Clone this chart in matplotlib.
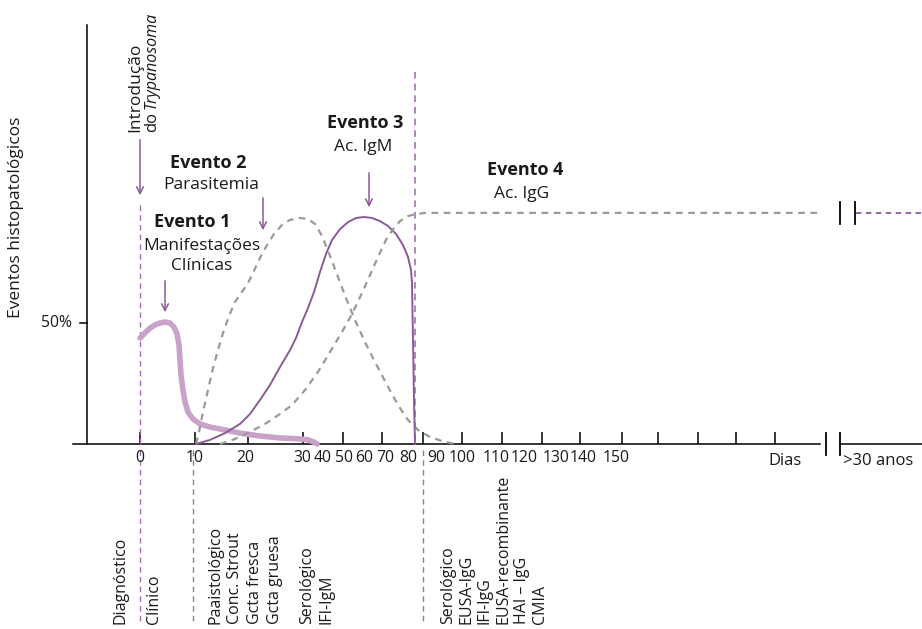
import matplotlib.pyplot as plt
import matplotlib.transforms as mtransforms

plt.rcParams['font.family'] = ['Open Sans', 'DejaVu Sans']

W, H = 922, 629
PX_PCT = 121 / 50  # pixels por ponto percentual na escala vertical

# --- dados (x = posicao horizontal do esquema, y = %) ---
ev1_x = [140, 145, 150, 155, 160, 165, 170, 174, 177, 179, 180, 181, 183, 185, 188, 193, 200, 210, 225,
         240, 260, 280, 300, 308, 314, 317]
ev1_y = [43.8, 45.9, 47.9, 49.2, 50.0, 50.4, 50.0, 48.3, 45.5, 40.9, 34.7, 28.5, 22.3, 17.4, 13.2, 10.3,
         8.3, 7.0, 5.8, 4.5, 3.3, 2.5, 2.1, 1.7, 0.8, 0]

ev2_x = [196, 199, 203, 208, 213, 218, 223, 229, 235, 241, 247, 253, 260, 267, 274, 282, 290, 300, 308,
         315, 322, 330, 338, 346, 355, 365, 375, 387, 398, 408, 418, 430, 442, 455]
ev2_y = [0, 5.0, 13.2, 22.3, 31.4, 38.8, 45.9, 52.9, 58.7, 62.4, 65.7, 70.7, 76.9, 82.2, 86.8, 90.5, 92.6,
         93.4, 93.0, 90.9, 86.0, 77.7, 69.0, 60.3, 51.2, 42.1, 33.9, 24.4, 16.1, 9.9, 5.8, 2.9, 1.2, 0]

ev3_x = [196, 210, 225, 240, 250, 260, 270, 280, 290, 296, 302, 308, 314, 320, 326, 332, 340, 348, 356,
         364, 372, 380, 388, 396, 403, 408, 411, 412, 413, 414, 415]
ev3_y = [0, 1.7, 4.5, 8.3, 12.4, 18.2, 24.4, 31.8, 38.8, 43.8, 50.4, 56.2, 62.8, 71.1, 78.5, 84.3, 88.8,
         91.7, 93.4, 93.8, 93.4, 92.1, 90.1, 86.8, 82.2, 77.3, 71.9, 66.5, 43.0, 18.2, 0]

ev4_x = [220, 235, 250, 265, 280, 292, 305, 318, 330, 342, 352, 362, 370, 378, 386, 393, 400, 408, 416,
         425, 818]
ev4_y = [0, 2.1, 5.0, 8.3, 12.4, 16.1, 22.3, 29.8, 38.0, 46.3, 53.7, 62.4, 69.8, 77.3, 84.3, 88.8, 92.1,
         94.2, 95.0, 95.5, 95.5]
ev4_late_x = [856, 922]
ev4_late_y = [95.5, 95.5]

tick_x = [140, 195, 248, 303, 343, 382, 423, 462, 502, 542, 580, 622, 658, 698, 736, 775]
tick_labels = ['0', '10', '20', '30', '40', '50', '60', '70', '80', '90', '100', '110', '120', '130', '140', '150']
label_x = [140, 195, 245, 302, 323, 344, 364, 385, 408, 436, 462, 496, 524, 556, 583, 616]

purple = '#8b5a98'
light_purple = '#c9a2c9'
gray = '#9a9a9a'
vline_col = '#a66fb3'
txt = '#1a1a1a'

fig = plt.figure(figsize=(W / 100, H / 100), dpi=100)
ax = fig.add_axes([0, 0, 1, 1])
ax.set_xlim(0, W)
ax.set_ylim(-(H - 444) / PX_PCT, 444 / PX_PCT)
ax.axis('off')

# transform em pixels a partir do canto superior esquerdo
pix = mtransforms.Affine2D().scale(1 / W, -1 / H).translate(0, 1) + fig.transFigure

# eixos
ax.plot([73, 820], [0, 0], color='black', lw=1.1)
ax.plot([840, 922], [0, 0], color='black', lw=1.1)
ax.plot([87, 87], [0, (444 - 25) / PX_PCT], color='black', lw=1.1)
ax.plot([80, 87], [50, 50], color='black', lw=1.1)
ax.vlines(tick_x, 0, 5, color='black', lw=1.1)
# quebras
for bx in [826, 840]:
    ax.plot([bx, bx], [-4.5, 4.5], color='black', lw=1.3)
for bx in [840, 855]:
    ax.plot([bx, bx], [95.5 - 4.5, 95.5 + 4.5], color='black', lw=1.3)

# linhas verticais tracejadas
dash = (0, (4, 3))
ax.plot([140, 140], [(444 - 205) / PX_PCT, 0], color=vline_col, lw=1, ls=dash)
ax.plot([415, 415], [(444 - 72) / PX_PCT, 0], color=vline_col, lw=1.2, ls=dash)
for vx in [140, 193, 423]:
    ax.plot([vx, vx], [-6 / PX_PCT, -(622 - 444) / PX_PCT], color=vline_col, lw=1, ls=dash)

# curvas
ax.plot(ev1_x, ev1_y, color=light_purple, lw=4, solid_capstyle='round', solid_joinstyle='round')
ax.plot(ev2_x, ev2_y, color=gray, lw=1.6, ls=(0, (3, 2.5)))
ax.plot(ev3_x, ev3_y, color=purple, lw=1.4)
ax.plot(ev4_x, ev4_y, color=gray, lw=1.6, ls=(0, (3, 2.5)))
ax.plot(ev4_late_x, ev4_late_y, color=purple, lw=1.3, ls=(0, (3, 2.5)))

# rotulos do eixo x
for lx, lab in zip(label_x, tick_labels):
    ax.text(lx, 458, lab, transform=pix, ha='center', va='center', fontsize=11.3, color=txt)
ax.text(785, 461, 'Dias', transform=pix, ha='center', va='center', fontsize=12, color=txt)
ax.text(843, 461, '>30 anos', transform=pix, ha='left', va='center', fontsize=12, color=txt)
ax.text(72, 323, '50%', transform=pix, ha='right', va='center', fontsize=11.3, color=txt)
ax.text(16, 217, 'Eventos histopatológicos', transform=pix, rotation=90, ha='center', va='center',
        fontsize=12.5, color=txt)

# anotacoes superiores
ax.text(135, 132, 'Introdução', transform=pix, rotation=90, ha='center', va='bottom', fontsize=12.5,
        color=txt)
ax.text(152, 132, 'do', transform=pix, rotation=90, ha='center', va='bottom', fontsize=12, color=txt)
ax.text(152, 109, 'Trypanosoma', transform=pix, rotation=90, ha='center', va='bottom', fontsize=11.5,
        style='italic', color=txt)

bold_kw = dict(transform=pix, ha='center', va='center', fontsize=13, fontweight='bold', color=txt)
reg_kw = dict(transform=pix, ha='center', va='center', fontsize=12.5, color=txt)
ax.text(208, 163, 'Evento 2', **bold_kw)
ax.text(211, 185, 'Parasitemia', **reg_kw)
ax.text(192, 222, 'Evento 1', **bold_kw)
ax.text(202, 246, 'Manifestações', **reg_kw)
ax.text(202, 266, 'Clínicas', **reg_kw)
ax.text(365, 123, 'Evento 3', **bold_kw)
ax.text(363, 147, 'Ac. IgM', **reg_kw)
ax.text(525, 170, 'Evento 4', **bold_kw)
ax.text(522, 194, 'Ac. IgG', **reg_kw)

arrow = dict(arrowstyle='->', color=purple, lw=1.1, mutation_scale=12)
for x0, y0, y1 in [(140, 137, 198), (263, 195, 233), (165, 278, 315), (369, 170, 210)]:
    ax.annotate('', xy=(x0, y1), xytext=(x0, y0), xycoords=pix, textcoords=pix, arrowprops=arrow)

# rotulos inferiores (diagnostico)
low_kw = dict(transform=pix, rotation=90, ha='left', va='bottom', fontsize=11.5, multialignment='left',
              color=txt)
ax.text(112, 624, 'Diagnóstico', **low_kw)
ax.text(146, 624, 'Clínico', **low_kw)
ax.text(207, 624, 'Paaistológico\nConc. Strout\nGcta fresca\nGcta gruesa', linespacing=1.32, **low_kw)
ax.text(299, 624, 'Serológico\nIFI-IgM', linespacing=1.32, **low_kw)
ax.text(440, 624, 'Serológico\nEUSA-IgG\nIFI-IgG\nEUSA-recombinante\nHAI – IgG\nCMIA', linespacing=1.2,
        **low_kw)

fig.savefig('out.png', dpi=100)
